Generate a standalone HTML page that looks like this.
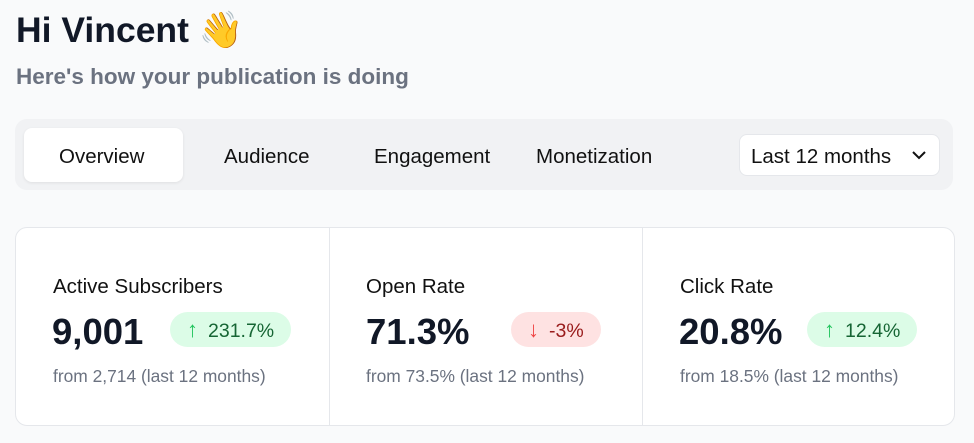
<!DOCTYPE html>
<html><head><meta charset="utf-8"><style>
*{margin:0;padding:0;box-sizing:border-box}
body{width:974px;height:443px;background:#f9fafb;font-family:"Liberation Sans",sans-serif;color:#111827;position:relative;overflow:hidden}
.a{position:absolute;white-space:nowrap}
.tab{font-size:20.5px;color:#111;top:145px}
.card{left:15px;top:227px;width:940px;height:199px;background:#fff;border:1px solid #e5e7eb;border-radius:12px}
.div{top:228px;width:1px;height:197px;background:#e5e7eb}
.lbl{font-size:20.5px;top:275px;color:#111}
.num{font-size:36.5px;font-weight:bold;top:311px;color:#111827}
.sub{font-size:17.4px;top:366px;color:#6b7280}
.badge{top:312px;height:35px;border-radius:18px;font-size:19.5px;line-height:35px;padding:0 17px}
.up{background:#dcfce7;color:#166534}
.dn{background:#fee2e2;color:#991b1b}
.up b{color:#22c55e;font-weight:bold;margin-right:10px;font-size:22px}
.dn b{color:#ef4444;font-weight:bold;margin-right:10px;font-size:22px}
</style></head><body>
<div class="a" style="left:16px;top:9px;font-size:35.5px;font-weight:bold;color:#111827">Hi Vincent <span style="font-family:'Noto Color Emoji',sans-serif;font-size:36px">👋</span></div>
<div class="a" style="left:16px;top:64px;font-size:22.5px;font-weight:bold;color:#6b7280">Here's how your publication is doing</div>
<div class="a" style="left:15px;top:119px;width:938px;height:71px;background:#f1f2f4;border-radius:12px"></div>
<div class="a" style="left:24px;top:128px;width:159px;height:54px;background:#fff;border-radius:8px;box-shadow:0 1px 3px rgba(0,0,0,.08)"></div>
<div class="a tab" style="left:59px">Overview</div>
<div class="a tab" style="left:224px">Audience</div>
<div class="a tab" style="left:374px">Engagement</div>
<div class="a tab" style="left:536px">Monetization</div>
<div class="a" style="left:739px;top:134px;width:201px;height:42px;background:#fff;border:1px solid #e5e7eb;border-radius:8px"></div>
<div class="a tab" style="left:751px">Last 12 months</div>
<svg class="a" style="left:911px;top:150px" width="16" height="12"><path d="M2 2l6 6 6-6" stroke="#111" stroke-width="2" fill="none"/></svg>
<div class="a card"></div>
<div class="a div" style="left:329px"></div>
<div class="a div" style="left:642px"></div>
<div class="a lbl" style="left:53px">Active Subscribers</div>
<div class="a num" style="left:52px">9,001</div>
<div class="a badge up" style="left:170px"><b>↑</b>231.7%</div>
<div class="a sub" style="left:53px">from 2,714 (last 12 months)</div>
<div class="a lbl" style="left:366px">Open Rate</div>
<div class="a num" style="left:366px">71.3%</div>
<div class="a badge dn" style="left:511px"><b>↓</b>-3%</div>
<div class="a sub" style="left:366px">from 73.5% (last 12 months)</div>
<div class="a lbl" style="left:680px">Click Rate</div>
<div class="a num" style="left:679px">20.8%</div>
<div class="a badge up" style="left:807px"><b>↑</b>12.4%</div>
<div class="a sub" style="left:680px">from 18.5% (last 12 months)</div>
</body></html>
